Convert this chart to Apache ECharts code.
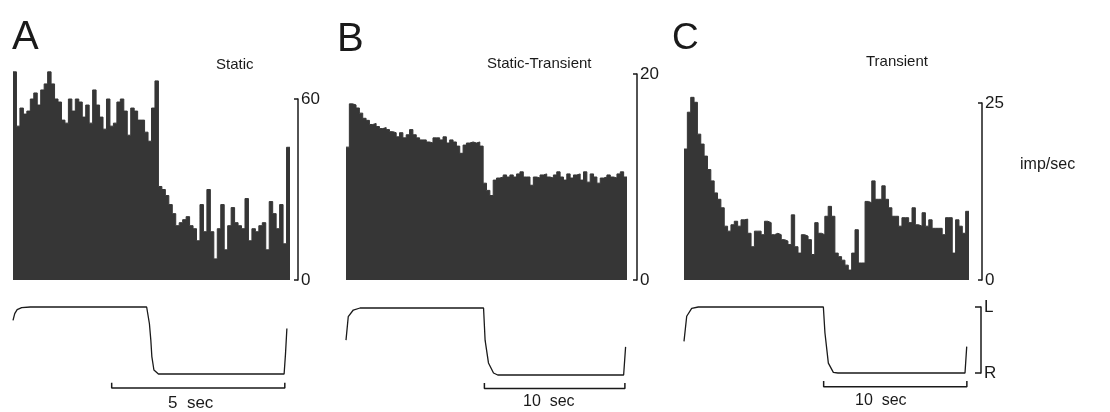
<!DOCTYPE html>
<html>
<head>
<meta charset="utf-8">
<script src="https://cdn.jsdelivr.net/npm/echarts@6/dist/echarts.min.js"></script>
<style>
  html, body { margin: 0; padding: 0; background: #fff; }
  #chart { width: 1110px; height: 412px; }
</style>
</head>
<body>
<div id="chart"></div>
<script>
// firing rate histograms (imp/sec), one value per bin
var binsA = [69, 51, 57, 55, 56, 60, 62, 58, 63, 65, 69, 65, 60, 59, 53, 52, 60, 56, 60, 59,
    54, 58, 52, 63, 58, 54, 50, 60, 51, 52, 59, 60, 56, 48, 57, 56, 53, 53, 49, 46, 57, 66,
    31, 30, 28, 25, 22, 18, 19, 20, 21, 18, 17, 13, 25, 16, 30, 16, 7, 17, 25, 10, 18, 24,
    19, 18, 17, 27, 13, 17, 16, 18, 19, 10, 26, 22, 17, 25, 12, 44];
var binsB = [12.9, 17.1, 17.0, 16.7, 16.2, 15.7, 15.5, 15.1, 15.2, 14.9,
    14.7, 14.8, 14.6, 14.4, 14.3, 13.9, 14.3, 13.8, 14.1, 14.6,
    14.1, 13.8, 13.6, 13.6, 13.4, 13.3, 13.8, 13.8, 13.6, 13.9,
    13.3, 13.6, 13.4, 13.0, 12.3, 13.1, 13.3, 13.4, 13.3, 13.4,
    13.0, 9.4, 8.7, 8.2, 9.7, 9.9, 10.0, 10.2, 10.0, 10.2,
    10.0, 10.3, 10.5, 10.0, 10.0, 9.2, 10.0, 9.9, 10.2, 10.3,
    10.0, 9.9, 10.2, 10.5, 10.0, 9.7, 10.3, 9.9, 10.2, 10.3,
    9.7, 10.5, 9.5, 10.3, 10.0, 9.4, 9.9, 10.0, 10.2, 10.0,
    9.9, 10.3, 10.5, 10.0];
var binsC = [18.5, 23.7, 25.8, 25.1, 20.6, 19.2, 17.5, 15.6, 14.0, 12.3,
    11.4, 10.2, 7.6, 6.9, 7.8, 8.3, 7.6, 8.5, 8.6, 6.6,
    4.7, 6.9, 6.9, 6.4, 8.3, 8.1, 6.4, 6.6, 6.4, 5.7,
    5.5, 5.0, 9.2, 4.7, 3.8, 6.4, 6.2, 5.7, 3.6, 8.1,
    6.6, 6.4, 9.0, 10.4, 9.0, 3.8, 3.3, 2.8, 2.1, 1.4,
    3.8, 7.1, 2.4, 2.4, 11.1, 10.9, 14.0, 11.4, 11.4, 13.3,
    11.4, 10.2, 9.0, 9.0, 7.6, 8.8, 8.8, 8.1, 10.2, 7.8,
    7.6, 9.5, 7.6, 8.5, 7.3, 7.3, 7.3, 6.4, 8.8, 8.8,
    3.8, 8.5, 7.6, 6.6, 9.7];

// scale bar tops (imp/sec)
var scaleMax = [60, 20, 25];

// stimulus position traces: [sec, position] with 1 = L, 0 = R
var traceA = [[0, 0.8], [0.05, 0.9], [0.12, 0.96], [0.25, 0.99], [0.5, 1], [3.86, 1], [3.94, 0.75],
    [3.98, 0.51], [4.01, 0.26], [4.07, 0.06], [4.2, 0], [7.83, 0], [7.87, 0.3], [7.91, 0.68]];
var traceB = [[0, 0.52], [0.16, 0.87], [0.52, 0.97], [1, 1], [9.79, 1], [9.9, 0.52], [10.14, 0.18],
    [10.5, 0.03], [10.8, 0], [19.76, 0], [19.9, 0.42]];
var traceC = [[0, 0.48], [0.19, 0.86], [0.54, 0.98], [1, 1], [9.78, 1], [9.89, 0.61], [10.13, 0.15],
    [10.48, 0.01], [10.8, 0], [19.72, 0], [19.84, 0.4]];
var traceSpan = [8, 20, 20];

// time scale brackets under the traces
var barA = [[2.85, -0.13], [2.85, -0.21], [7.85, -0.21], [7.85, -0.13]];
var barB = [[9.85, -0.12], [9.85, -0.2], [19.85, -0.2], [19.85, -0.12]];
var barC = [[9.8, -0.12], [9.8, -0.21], [19.85, -0.21], [19.85, -0.12]];

var chart = echarts.init(document.getElementById('chart'));
var font = 'Liberation Sans, Arial, sans-serif';
var ink = '#1a1a1a';
var fill = '#363636';

// bin i spans [i, i+1]; the last bin gets a closing edge
function steps(bins) {
    return bins.map(function (v, i) { return [i, v]; })
        .concat([[bins.length, bins[bins.length - 1]]]);
}

function txt(text, left, top, size) {
    return {
        text: text, left: left, top: top, padding: 0,
        textStyle: {fontFamily: font, fontWeight: 'normal', fontSize: size, color: ink}
    };
}

var histAxis = function (g, max, offset) {
    return {
        gridIndex: g, type: 'value', min: 0, max: max, interval: max,
        position: 'right', offset: offset,
        axisLine: {show: true, onZero: false, lineStyle: {color: ink, width: 1.5}},
        axisTick: {show: true, inside: true, length: 4, lineStyle: {color: ink, width: 1.5}},
        axisLabel: {color: ink, fontSize: 17, fontFamily: font, margin: 3},
        splitLine: {show: false}
    };
};

function hist(g, bins) {
    return {
        type: 'line', step: 'end', xAxisIndex: g, yAxisIndex: g, data: steps(bins),
        symbol: 'none', clip: false,
        lineStyle: {color: fill, width: 1},
        areaStyle: {color: fill, opacity: 1, origin: 'start'}
    };
}

function trace(g, data, w) {
    return {
        type: 'line', xAxisIndex: g, yAxisIndex: g, data: data, symbol: 'none', clip: false,
        lineStyle: {color: ink, width: w}
    };
}

var option = {
    animation: false,
    backgroundColor: '#fff',
    title: [
        txt('A', 12, 18, 40),
        txt('B', 337, 20, 40),
        txt('C', 672, 20, 37),
        txt('Static', 216, 57, 15),
        txt('Static-Transient', 487, 56, 15),
        txt('Transient', 866, 54, 15),
        txt('imp/sec', 1020, 157, 16),
        txt('5  sec', 168, 395, 17),
        txt('10  sec', 523, 394, 16),
        txt('10  sec', 855, 393, 16)
    ],
    grid: [
        {left: 13, top: 99, width: 277, height: 181},
        {left: 346, top: 74, width: 281, height: 206},
        {left: 684, top: 103, width: 285, height: 177},
        {left: 13, top: 307, width: 277, height: 67},
        {left: 346, top: 308, width: 281, height: 67},
        {left: 684, top: 307, width: 285, height: 66}
    ],
    xAxis: [
        {gridIndex: 0, type: 'value', min: 0, max: binsA.length, show: false},
        {gridIndex: 1, type: 'value', min: 0, max: binsB.length, show: false},
        {gridIndex: 2, type: 'value', min: 0, max: binsC.length, show: false},
        {gridIndex: 3, type: 'value', min: 0, max: traceSpan[0], show: false},
        {gridIndex: 4, type: 'value', min: 0, max: traceSpan[1], show: false},
        {gridIndex: 5, type: 'value', min: 0, max: traceSpan[2], show: false}
    ],
    yAxis: [
        histAxis(0, scaleMax[0], 8),
        histAxis(1, scaleMax[1], 10),
        histAxis(2, scaleMax[2], 13),
        {gridIndex: 3, type: 'value', min: 0, max: 1, show: false},
        {gridIndex: 4, type: 'value', min: 0, max: 1, show: false},
        {
            gridIndex: 5, type: 'value', min: 0, max: 1, interval: 1,
            position: 'right', offset: 12,
            axisLine: {show: true, onZero: false, lineStyle: {color: ink, width: 1.5}},
            axisTick: {show: true, inside: true, length: 6, lineStyle: {color: ink, width: 1.5}},
            axisLabel: {
                color: ink, fontSize: 17, fontFamily: font, margin: 3,
                formatter: function (v) { return v === 1 ? 'L' : 'R'; }
            },
            splitLine: {show: false}
        }
    ],
    series: [
        hist(0, binsA),
        hist(1, binsB),
        hist(2, binsC),
        trace(3, traceA, 1.3),
        trace(4, traceB, 1.3),
        trace(5, traceC, 1.3),
        trace(3, barA, 1.5),
        trace(4, barB, 1.5),
        trace(5, barC, 1.5)
    ]
};

chart.setOption(option);
</script>
</body>
</html>
